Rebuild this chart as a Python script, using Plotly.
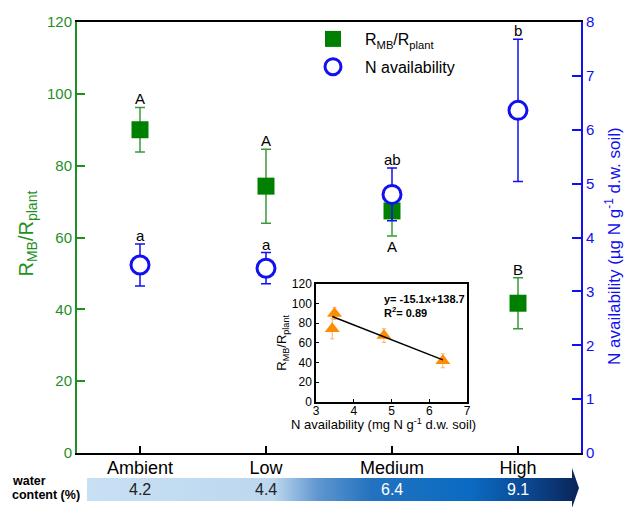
import plotly.graph_objects as go

# ---------------- data ----------------
categories = ["Ambient", "Low", "Medium", "High"]
ratio = [90.0, 74.3, 67.4, 41.7]          # R_MB/R_plant
ratio_err = [6.2, 10.3, 7.0, 7.1]
n_avail = [3.49, 3.43, 4.80, 6.36]        # µg N g-1 d.w. soil
n_err = [0.39, 0.29, 0.49, 1.32]
ratio_letters = ["A", "A", "A", "B"]
n_letters = ["a", "a", "ab", "b"]
water_content = ["4.2", "4.4", "6.4", "9.1"]
fit_slope, fit_intercept, fit_r2 = -15.1, 138.7, 0.89

W, H = 628, 507
def px(x): return x / W
def py(y): return 1 - y / H

GREEN = "#008000"
GREEN_AX = "#1f8f1f"
BLUE = "#1010f0"
ORANGE = "#ff8c00"
FONT = "Arial, Liberation Sans, sans-serif"

fig = go.Figure()

# main series
fig.add_trace(go.Scatter(
    x=categories, y=ratio, mode="markers", name="R<sub>MB</sub>/R<sub>plant</sub>",
    legendgroup="g1",
    marker=dict(symbol="square", size=17, color=GREEN),
    error_y=dict(type="data", array=ratio_err, color="#3a9a3a", thickness=1.5, width=5),
    xaxis="x", yaxis="y"))
fig.add_trace(go.Scatter(
    x=categories, y=n_avail, mode="markers", name="N availability",
    legendgroup="g2",
    marker=dict(symbol="circle", size=18, color="white", line=dict(color=BLUE, width=3)),
    error_y=dict(type="data", array=n_err, color=BLUE, thickness=1.5, width=5),
    xaxis="x", yaxis="y2"))

# inset
fig.add_trace(go.Scatter(
    x=n_avail, y=ratio, mode="markers", showlegend=False,
    marker=dict(symbol="triangle-up", size=13, color=ORANGE),
    error_y=dict(type="data", array=ratio_err, color="#ffb060", thickness=1, width=2),
    xaxis="x2", yaxis="y3"))
fx = [min(n_avail), max(n_avail)]
fig.add_trace(go.Scatter(
    x=fx, y=[fit_slope * v + fit_intercept for v in fx], mode="lines", showlegend=False,
    line=dict(color="black", width=1.5), xaxis="x2", yaxis="y3"))

# water content arrow (decoration, pixel space)
ax_x = [87, 572, 572, 579, 572, 572, 87, 87]
ax_y = [478, 478, 468, 488, 508, 501, 501, 478]
fig.add_trace(go.Scatter(
    x=ax_x, y=ax_y, mode="lines", fill="toself", showlegend=False, hoverinfo="skip",
    line=dict(width=0, color="rgba(0,0,0,0)"),
    fillgradient=dict(type="horizontal", start=87, stop=579,
                      colorscale=[[0, "#c8e0f4"], [0.38, "#bcd7ef"], [0.47, "#5f96cf"],
                                  [0.58, "#2272bf"], [0.78, "#0a6bc2"], [0.88, "#0c4d99"],
                                  [1.0, "#0a2458"]]),
    xaxis="x3", yaxis="y4"))

annotations = []
for i, c in enumerate(categories):
    if c == "Medium":
        annotations.append(dict(x=c, y=ratio[i] - ratio_err[i], xref="x", yref="y",
                                text=ratio_letters[i], showarrow=False, yanchor="top",
                                font=dict(size=15, color="black", family=FONT)))
    else:
        annotations.append(dict(x=c, y=ratio[i] + ratio_err[i], xref="x", yref="y",
                                text=ratio_letters[i], showarrow=False, yanchor="bottom",
                                yshift=-2, font=dict(size=15, color="black", family=FONT)))
    annotations.append(dict(x=c, y=n_avail[i] + n_err[i], xref="x", yref="y2",
                            text=n_letters[i], showarrow=False, yanchor="bottom", yshift=-2,
                            font=dict(size=15, color="black", family=FONT)))
    annotations.append(dict(x=c, y=py(489), xref="x", yref="paper", text=water_content[i],
                            showarrow=False, yanchor="middle",
                            font=dict(size=16, family=FONT,
                                      color="#222222" if i < 2 else "white")))

annotations += [
    dict(x=px(12), y=py(234), xref="paper", yref="paper", textangle=-90,
         text="R<sub>MB</sub>/R<sub>plant</sub>", showarrow=False,
         font=dict(size=20, color=GREEN_AX, family=FONT)),
    dict(x=px(626), y=py(246), xref="paper", yref="paper", textangle=-90,
         text="N availability (µg N g<sup>-1</sup> d.w. soil)", showarrow=False,
         font=dict(size=17, color=BLUE, family=FONT)),
    dict(x=px(10), y=py(480.5), xref="paper", yref="paper", xanchor="left", yanchor="middle",
         text="<b>water</b>", showarrow=False, font=dict(size=12.5, color="black", family=FONT)),
    dict(x=px(10), y=py(495), xref="paper", yref="paper", xanchor="left", yanchor="middle",
         text="<b>content (%)</b>", showarrow=False,
         font=dict(size=12.5, color="black", family=FONT)),
    dict(x=4.75, y=105, xref="x2", yref="y3", xanchor="left",
         text=f"<b>y= {fit_slope}x+{fit_intercept}</b>", showarrow=False,
         font=dict(size=11, color="black", family=FONT)),
    dict(x=4.75, y=91, xref="x2", yref="y3", xanchor="left",
         text=f"<b>R<sup>2</sup>= {fit_r2}</b>", showarrow=False,
         font=dict(size=11, color="black", family=FONT)),
    dict(x=px(383), y=py(424), xref="paper", yref="paper", yanchor="middle",
         text="N availability (mg N g<sup>-1</sup> d.w. soil)", showarrow=False,
         font=dict(size=13, color="black", family=FONT)),
]

fig.update_layout(
    template="none",
    width=W, height=H, margin=dict(l=0, r=0, t=0, b=0, pad=0, autoexpand=False),
    paper_bgcolor="white", plot_bgcolor="rgba(0,0,0,0)",
    font=dict(family=FONT),
    showlegend=True,
    legend=dict(x=px(301), y=py(22), xanchor="left", yanchor="top",
                bgcolor="rgba(0,0,0,0)", font=dict(size=16, color="black", family=FONT),
                itemsizing="trace", itemwidth=54, tracegroupgap=4),
    xaxis=dict(domain=[px(77), px(581)], range=[-0.5, 3.5], type="category",
               showline=True, linecolor="black", linewidth=1.5, mirror=True,
               ticks="inside", ticklen=7, tickcolor="black", tickwidth=1.5,
               ticklabelstandoff=-2,
               tickfont=dict(size=18, color="black", family=FONT), showgrid=False,
               zeroline=False, anchor="y", automargin=False),
    yaxis=dict(domain=[py(453), py(22)], range=[0, 120], dtick=20,
               showline=True, linecolor=GREEN_AX, linewidth=2,
               ticks="inside", ticklen=8, tickcolor=GREEN_AX, tickwidth=1.5,
               tickfont=dict(size=15, color=GREEN_AX, family=FONT),
               showgrid=False, zeroline=False, anchor="x", automargin=False),
    yaxis2=dict(domain=[py(453), py(22)], range=[0, 8], dtick=1, overlaying="y", side="right",
                showline=True, linecolor=BLUE, linewidth=2,
                ticks="inside", ticklen=9, tickcolor=BLUE, tickwidth=1.5,
                tickfont=dict(size=15, color=BLUE, family=FONT),
                showgrid=False, zeroline=False, anchor="x", automargin=False),
    xaxis2=dict(domain=[px(316), px(467)], range=[3, 7], dtick=1, anchor="y3",
                showline=True, linecolor="black", linewidth=1.5, mirror=True,
                ticks="inside", ticklen=3, tickcolor="black", ticklabelstandoff=-3,
                tickfont=dict(size=12, color="black", family=FONT),
                showgrid=False, zeroline=False, automargin=False),
    yaxis3=dict(domain=[py(401.7), py(284)], range=[0, 120], dtick=20, anchor="x2",
                showline=True, linecolor="black", linewidth=1.5, mirror=True,
                ticks="inside", ticklen=3, tickcolor="black",
                tickfont=dict(size=12, color="black", family=FONT),
                title=dict(text="R<sub>MB</sub>/R<sub>plant</sub>",
                           font=dict(size=13, color="black", family=FONT), standoff=2),
                showgrid=False, zeroline=False, automargin=False),
    xaxis3=dict(domain=[0, 1], range=[0, W], visible=False, anchor="y4", fixedrange=True,
                automargin=False),
    yaxis4=dict(domain=[0, 1], range=[H, 0], visible=False, anchor="x3", fixedrange=True,
                automargin=False),
    annotations=annotations,
)

fig.add_shape(type="rect", xref="paper", yref="paper", x0=px(316), x1=px(467),
              y0=py(401.7), y1=py(284), fillcolor="white", line=dict(width=0), layer="below")

fig.write_html("out.html", config={"displayModeBar": False})
with open("out.html", encoding="utf-8") as f:
    html = f.read()
html = html.replace("<head>", "<head><style>html,body{margin:0;padding:0;overflow:hidden;}</style>", 1)
with open("out.html", "w", encoding="utf-8") as f:
    f.write(html)
